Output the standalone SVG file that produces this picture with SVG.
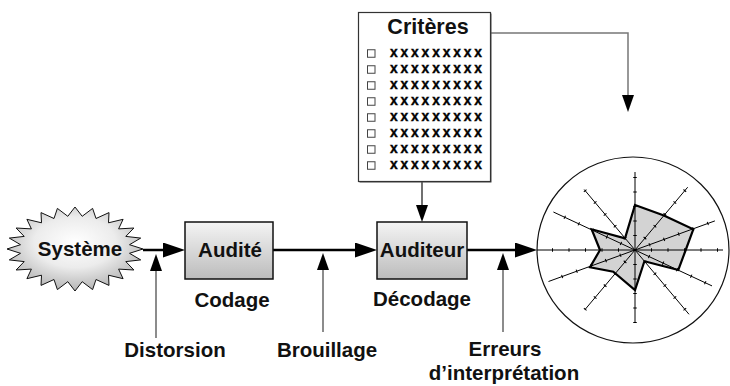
<svg xmlns="http://www.w3.org/2000/svg" width="730" height="386" viewBox="0 0 730 386">
<defs>
<linearGradient id="boxg" x1="0" y1="0" x2="0" y2="1">
<stop offset="0" stop-color="#f4f4f4"/><stop offset="1" stop-color="#bcbcbc"/>
</linearGradient>
<radialGradient id="sung" cx="0.5" cy="0.42" r="0.6">
<stop offset="0" stop-color="#ffffff"/><stop offset="0.5" stop-color="#ececec"/><stop offset="1" stop-color="#b0b0b0"/>
</radialGradient>
<marker id="big" markerUnits="userSpaceOnUse" markerWidth="22" markerHeight="15" viewBox="0 0 22 15" refX="2" refY="7.5" orient="auto">
<path d="M0,0 L22,7.5 L0,15 Z" fill="#000"/>
</marker>
<marker id="small" markerUnits="userSpaceOnUse" markerWidth="17" markerHeight="12" viewBox="0 0 17 12" refX="2" refY="6" orient="auto">
<path d="M0,0 L17,6 L0,12 Z" fill="#000"/>
</marker>
</defs>
<style>
.lbl{font-family:"Liberation Sans",Arial,sans-serif;font-weight:bold;font-size:20.5px;fill:#111;text-anchor:middle}
.xx{font-family:"Liberation Sans",Arial,sans-serif;font-weight:bold;font-size:13.8px;fill:#000;stroke:#000;stroke-width:0.4}
.box{fill:url(#boxg);stroke:#111;stroke-width:1.5}
.main{fill:none;stroke:#000;stroke-width:2.5;marker-end:url(#big)}
.thin{fill:none;stroke:#666;stroke-width:1.5;marker-end:url(#small)}
.cb{fill:#fff;stroke:#444;stroke-width:1}
.ax{stroke:#000;stroke-width:1}
.tk{stroke:#000;stroke-width:3.5;stroke-dashoffset:1.5}
.t16{stroke-dasharray:1 15.5}
.t14{stroke-dasharray:1 13.5}
.t15{stroke-dasharray:1 14.5}
</style>
<rect width="730" height="386" fill="#fff"/>

<g id="connectors">
<path class="main" d="M143,250 H165"/>
<path class="main" d="M273,250 H357"/>
<path class="main" d="M467,250 H517"/>
<path class="thin" d="M156,338 V269"/>
<path class="thin" d="M323,332 V268"/>
<path class="thin" d="M503,332 V268"/>
<path class="thin" style="stroke:#111;stroke-width:1.2" d="M422,182 V207"/>
<path class="thin" style="stroke:#777" d="M491,33 H628 V97"/>
</g>

<g id="systeme">
<polygon fill="url(#sung)" stroke="#111" stroke-width="1" points="143,249 129.5,253.3 140.7,259.9 125.8,261.6 133.9,270 118.6,269.1 123.1,278.7 108.5,275.2 109,285.4 96,279.5 92.6,289.6 82.2,281.7 75,291 67.8,281.7 57.4,289.6 54,279.5 41,285.4 41.5,275.2 26.9,278.7 31.4,269.1 16.1,270 24.2,261.6 9.3,259.9 20.5,253.3 7,249 20.5,244.7 9.3,238.1 24.2,236.4 16.1,228 31.4,228.9 26.9,219.3 41.5,222.8 41,212.6 54,218.5 57.4,208.4 67.8,216.3 75,207 82.2,216.3 92.6,208.4 96,218.5 109,212.6 108.5,222.8 123.1,219.3 118.6,228.9 133.9,228 125.8,236.4 140.7,238.1 129.5,244.7"/>
<text class="lbl" x="80" y="256">Système</text>
</g>

<g id="audite">
<rect class="box" x="185" y="222" width="88" height="57"/>
<text class="lbl" x="230" y="257">Audité</text>
<text class="lbl" x="232" y="307">Codage</text>
</g>

<g id="auditeur">
<rect class="box" x="377" y="222" width="90" height="57"/>
<text class="lbl" x="422" y="257">Auditeur</text>
<text class="lbl" x="422" y="306">Décodage</text>
</g>

<g id="criteres">
<rect x="359.5" y="13.5" width="132" height="169" fill="#555"/>
<rect x="358.5" y="12.5" width="132" height="169" fill="#fff" stroke="#333" stroke-width="1.2"/>
<text class="lbl" x="428" y="34" style="font-size:21.5px">Critères</text>
<rect class="cb" x="367.5" y="49.75" width="7.5" height="7.5"/><text class="xx" x="390" y="57.3" textLength="92" lengthAdjust="spacing">xxxxxxxxx</text>
<rect class="cb" x="367.5" y="65.75" width="7.5" height="7.5"/><text class="xx" x="390" y="73.3" textLength="92" lengthAdjust="spacing">xxxxxxxxx</text>
<rect class="cb" x="367.5" y="81.75" width="7.5" height="7.5"/><text class="xx" x="390" y="89.3" textLength="92" lengthAdjust="spacing">xxxxxxxxx</text>
<rect class="cb" x="367.5" y="97.75" width="7.5" height="7.5"/><text class="xx" x="390" y="105.3" textLength="92" lengthAdjust="spacing">xxxxxxxxx</text>
<rect class="cb" x="367.5" y="113.75" width="7.5" height="7.5"/><text class="xx" x="390" y="121.3" textLength="92" lengthAdjust="spacing">xxxxxxxxx</text>
<rect class="cb" x="367.5" y="129.75" width="7.5" height="7.5"/><text class="xx" x="390" y="137.3" textLength="92" lengthAdjust="spacing">xxxxxxxxx</text>
<rect class="cb" x="367.5" y="145.75" width="7.5" height="7.5"/><text class="xx" x="390" y="153.3" textLength="92" lengthAdjust="spacing">xxxxxxxxx</text>
<rect class="cb" x="367.5" y="161.75" width="7.5" height="7.5"/><text class="xx" x="390" y="169.3" textLength="92" lengthAdjust="spacing">xxxxxxxxx</text>
</g>

<g id="radar">
<ellipse cx="633" cy="250" rx="96" ry="93" fill="#fff" stroke="#111" stroke-width="1.2"/>
<polygon fill="#d3d3d3" stroke="none" points="635,205 663.9,215.5 693.3,229.3 685.7,250 678.3,270 644.4,261.2 635,290 613.3,271.7 590,267.3 600,250 591.7,229.3 625,238.3"/>
<g class="axes">
<line class="ax" x1="537" y1="250" x2="723" y2="250"/>
<line class="ax" x1="635" y1="172" x2="635" y2="323"/>
<line class="ax" x1="548.5" y1="281.5" x2="714.9" y2="220.9"/>
<line class="ax" x1="584.9" y1="309.7" x2="687.7" y2="187.2"/>
<line class="ax" x1="584.2" y1="189.5" x2="689" y2="314.3"/>
<line class="ax" x1="553.4" y1="212" x2="712" y2="285.9"/>
</g>
<g class="ticks">
<line class="tk t16" x1="636" y1="250" x2="723" y2="250"/>
<line class="tk t16" x1="634" y1="250" x2="537" y2="250"/>
<line class="tk t14" x1="635" y1="249" x2="635" y2="172"/>
<line class="tk t14" x1="635" y1="251" x2="635" y2="323"/>
<line class="tk t15" x1="635.94" y1="249.66" x2="714.9" y2="220.9"/>
<line class="tk t15" x1="634.06" y1="250.34" x2="548.5" y2="281.5"/>
<line class="tk t15" x1="635.64" y1="249.23" x2="687.7" y2="187.2"/>
<line class="tk t15" x1="634.36" y1="250.77" x2="584.9" y2="309.7"/>
<line class="tk t15" x1="634.36" y1="249.23" x2="584.2" y2="189.5"/>
<line class="tk t15" x1="635.64" y1="250.77" x2="689" y2="314.3"/>
<line class="tk t15" x1="634.09" y1="249.58" x2="553.4" y2="212"/>
<line class="tk t15" x1="635.91" y1="250.42" x2="712" y2="285.9"/>
</g>
<polygon fill="none" stroke="#000" stroke-width="2.2" stroke-linejoin="miter" points="635,205 663.9,215.5 693.3,229.3 685.7,250 678.3,270 644.4,261.2 635,290 613.3,271.7 590,267.3 600,250 591.7,229.3 625,238.3"/>
</g>

<g id="labels">
<text class="lbl" x="175" y="357">Distorsion</text>
<text class="lbl" x="327" y="357">Brouillage</text>
<text class="lbl" x="505" y="356">Erreurs</text>
<text class="lbl" x="504" y="380">d’interprétation</text>
</g>
</svg>
